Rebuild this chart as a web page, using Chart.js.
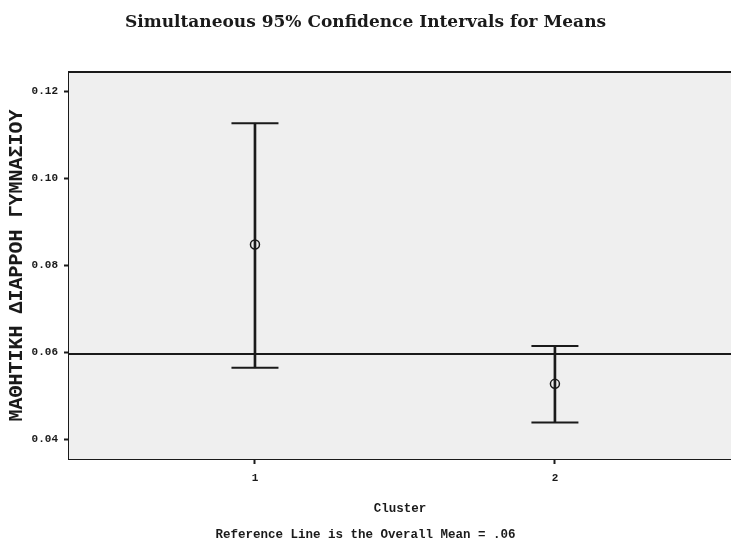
<!DOCTYPE html>
<html>
<head>
<meta charset="utf-8">
<script src="https://cdn.jsdelivr.net/npm/chart.js@4/dist/chart.umd.min.js"></script>
<style>
    html, body { margin: 0; padding: 0; background: #ffffff; }
    #box { width: 731px; height: 544px; }
</style>
</head>
<body>
<div id="box"><canvas id="ciChart"></canvas></div>
<script>
// data
const clusters = [1, 2];
const clusterLabels = ["1", "2"];
const means = [0.0848, 0.0527];
const lowerBounds = [0.0564, 0.0438];
const upperBounds = [0.1127, 0.0614];
const overallMean = 0.0596;
const yTicks = [0.04, 0.06, 0.08, 0.10, 0.12];

const titleText = "Simultaneous 95% Confidence Intervals for Means";
const yTitle = "ΜΑΘΗΤΙΚΗ ΔΙΑΡΡΟΗ ΓΥΜΝΑΣΙΟΥ";
const xTitle = "Cluster";
const footText = "Reference Line is the Overall Mean = .06";

const ink = "#1a1a1a";
const plotBg = "#efefef";

// plot background, top border and reference line
const framePlugin = {
    id: "frame",
    beforeDatasetsDraw(chart) {
        const { ctx, chartArea, scales } = chart;
        ctx.save();
        ctx.fillStyle = plotBg;
        ctx.fillRect(chartArea.left, chartArea.top, chartArea.right - chartArea.left, chartArea.bottom - chartArea.top);
        ctx.strokeStyle = ink;
        ctx.lineWidth = 2;
        ctx.beginPath();
        ctx.moveTo(chartArea.left, chartArea.top);
        ctx.lineTo(chartArea.right, chartArea.top);
        const yRef = scales.y.getPixelForValue(overallMean);
        ctx.moveTo(chartArea.left, yRef);
        ctx.lineTo(chartArea.right, yRef);
        ctx.stroke();
        ctx.restore();
    },
};

const ctx = document.getElementById("ciChart").getContext("2d");
new Chart(ctx, {
    type: "scatter",
    data: {
        datasets: [
            {
                type: "bar",
                data: clusters.map((c, i) => ({ x: c, y: [lowerBounds[i], upperBounds[i]] })),
                backgroundColor: ink,
                barThickness: 2,
                order: 3,
            },
            {
                data: clusters.map((c, i) => ({ x: c, y: upperBounds[i] })),
                pointStyle: "line",
                pointRadius: 23.5,
                borderColor: ink,
                borderWidth: 2,
                order: 2,
            },
            {
                data: clusters.map((c, i) => ({ x: c, y: lowerBounds[i] })),
                pointStyle: "line",
                pointRadius: 23.5,
                borderColor: ink,
                borderWidth: 2,
                order: 2,
            },
            {
                data: clusters.map((c, i) => ({ x: c, y: means[i] })),
                pointStyle: "circle",
                pointRadius: 4.5,
                backgroundColor: "rgba(0,0,0,0)",
                borderColor: ink,
                borderWidth: 1.5,
                order: 1,
            },
        ],
    },
    options: {
        responsive: true,
        maintainAspectRatio: false,
        animation: false,
        events: [],
        layout: { padding: 0, autoPadding: false },
        plugins: {
            legend: { display: false },
            tooltip: { enabled: false },
            title: {
                display: true,
                text: titleText,
                color: ink,
                font: { family: "'DejaVu Serif'", size: 17, weight: "bold" },
                padding: { top: 12, bottom: 39.6 },
            },
            subtitle: {
                display: true,
                text: footText,
                position: "bottom",
                color: ink,
                font: { family: "'Liberation Mono'", size: 12.5, weight: "bold" },
                padding: { top: 0, bottom: 2 },
            },
        },
        scales: {
            x: {
                type: "linear",
                min: 0.38,
                max: 2.587,
                offset: false,
                afterBuildTicks: (scale) => {
                    scale.ticks = clusters.map((c) => ({ value: c }));
                },
                afterFit: (scale) => {
                    scale.height = 68;
                    scale.paddingLeft = 0;
                    scale.paddingRight = 0;
                },
                ticks: {
                    callback: (v) => clusterLabels[clusters.indexOf(v)],
                    color: ink,
                    font: { family: "'Liberation Mono'", size: 11, weight: "bold" },
                    padding: 8,
                    maxRotation: 0,
                },
                grid: {
                    drawOnChartArea: false,
                    drawTicks: true,
                    tickLength: 5,
                    tickWidth: 2,
                    tickColor: ink,
                    offset: false,
                },
                border: { display: true, color: ink, width: 2 },
                title: {
                    display: true,
                    text: xTitle,
                    color: ink,
                    font: { family: "'Liberation Mono'", size: 12.5, weight: "bold" },
                    padding: { top: 4, bottom: 11 },
                },
            },
            y: {
                min: 0.0354,
                max: 0.1245,
                afterBuildTicks: (scale) => {
                    scale.ticks = yTicks.map((v) => ({ value: v }));
                },
                afterFit: (scale) => {
                    scale.width = 69;
                    scale.paddingTop = 0;
                    scale.paddingBottom = 0;
                },
                ticks: {
                    callback: (v) => v.toFixed(2),
                    color: ink,
                    font: { family: "'Liberation Mono'", size: 11, weight: "bold" },
                    padding: 6,
                },
                grid: {
                    drawOnChartArea: false,
                    drawTicks: true,
                    tickLength: 5,
                    tickWidth: 2,
                    tickColor: ink,
                },
                border: { display: true, color: ink, width: 2 },
                title: {
                    display: true,
                    text: yTitle,
                    color: ink,
                    font: { family: "'Liberation Mono'", size: 20, weight: "bold" },
                    padding: { top: 5, bottom: 3 },
                },
            },
        },
    },
    plugins: [framePlugin],
});
</script>
</body>
</html>
